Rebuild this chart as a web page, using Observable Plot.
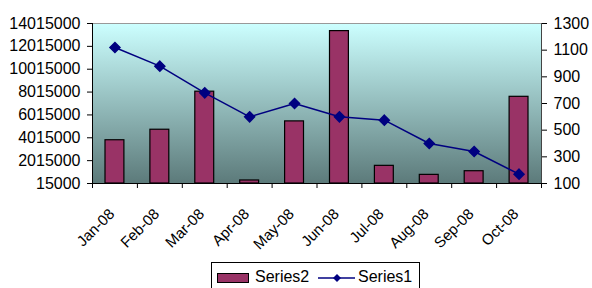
<!DOCTYPE html>
<html>
<head>
<meta charset="utf-8">
<script src="https://cdn.jsdelivr.net/npm/d3@7"></script>
<script src="https://cdn.jsdelivr.net/npm/@observablehq/plot@0.6"></script>
<style>
  html, body { margin: 0; padding: 0; background: #fff; }
  #wrap { position: relative; width: 592px; height: 288px; overflow: hidden; font-family: Arial, "Liberation Sans", sans-serif; }
  #wrap svg text { font-family: Arial, "Liberation Sans", sans-serif; }
  #legend { position: absolute; left: 211px; top: 262px; width: 209px; height: 34px; border: 1px solid #000; background: #fff; box-sizing: border-box; }
  #legend span { position: absolute; font-size: 16px; line-height: 16px; color: #000; white-space: nowrap; }
</style>
</head>
<body>
<div id="wrap"></div>
<script>
const months = ["Jan-08","Feb-08","Mar-08","Apr-08","May-08","Jun-08","Jul-08","Aug-08","Sep-08","Oct-08"];
const series2 = [3800000, 4720000, 8050000, 280000, 5450000, 13350000, 1560000, 770000, 1090000, 7600000];
const series1 = [1120, 980, 780, 600, 700, 600, 575, 400, 340, 170];
const leftTicks = [15000, 2015000, 4015000, 6015000, 8015000, 10015000, 12015000, 14015000];
const rightTicks = [100, 300, 500, 700, 900, 1100, 1300];

const L0 = leftTicks[0], L1 = leftTicks[leftTicks.length - 1];
const R0 = rightTicks[0], R1 = rightTicks[rightTicks.length - 1];
const toLeft = v => L0 + (v - R0) / (R1 - R0) * (L1 - L0);
const fromLeft = v => R0 + (v - L0) / (L1 - L0) * (R1 - R0);

const data = months.map((m, i) => ({m, i, s2: series2[i], s1: toLeft(series1[i])}));
const n = months.length;

const gradientDefs = () => {
  const defs = d3.create("svg:defs");
  const g = defs.append("linearGradient").attr("id", "bgGrad")
    .attr("x1", 0).attr("y1", 0).attr("x2", 0).attr("y2", 1);
  g.append("stop").attr("offset", "0%").attr("stop-color", "#ccffff");
  g.append("stop").attr("offset", "100%").attr("stop-color", "#5c7a7a");
  return defs.node();
};

const chart = Plot.plot({
  width: 592,
  height: 258,
  marginLeft: 92,
  marginRight: 51,
  marginTop: 23,
  marginBottom: 75,
  style: "font-family: Arial, 'Liberation Sans', sans-serif; font-size: 16px; background: transparent; color: #000;",
  x: {domain: [0, n]},
  y: {domain: [L0, L1]},
  marks: [
    gradientDefs,
    Plot.frame({fill: "url(#bgGrad)", stroke: null}),
    Plot.ruleY([L1], {stroke: "#999", strokeWidth: 1}),
    Plot.rectY(data, {x1: d => d.i, x2: d => d.i + 1, y1: L0, y2: "s2", insetLeft: 13, insetRight: 13, fill: "#993366", stroke: "#000", strokeWidth: 1.2}),
    Plot.line(data, {x: d => d.i + 0.5, y: "s1", stroke: "#000080", strokeWidth: 1.5}),
    Plot.dot(data, {x: d => d.i + 0.5, y: "s1", symbol: "diamond2", r: 4.5, fill: "#000080", stroke: "#000080"}),
    Plot.ruleX([0], {stroke: "#000", strokeWidth: 1}),
    Plot.ruleX([n], {stroke: "#444", strokeWidth: 1}),
    Plot.ruleY([L0], {stroke: "#000", strokeWidth: 1}),
    Plot.axisY({anchor: "left", ticks: leftTicks, tickFormat: d3.format("d"), tickSize: 5, tickPadding: 7, label: null, fontSize: 16}),
    Plot.axisY({anchor: "right", ticks: rightTicks.map(toLeft), tickFormat: d => String(Math.round(fromLeft(d))), tickSize: 5, tickPadding: 7, label: null, fontSize: 16}),
    Plot.axisX({ticks: d3.range(0, n + 1), tickFormat: () => "", tickSize: 5, label: null}),
    Plot.text(data, {x: d => d.i + 0.5, y: L0, text: "m", rotate: -45, textAnchor: "end", dx: -3, dy: 28, fontSize: 15})
  ]
});

const wrap = document.getElementById("wrap");
wrap.appendChild(chart);

const legend = document.createElement("div");
legend.id = "legend";
legend.innerHTML = `
  <div style="position:absolute;left:5px;top:10px;width:30px;height:8px;background:#993366;border:1px solid #000;"></div>
  <span style="left:43px;top:6px;">Series2</span>
  <svg style="position:absolute;left:106px;top:8px;" width="38" height="14">
    <line x1="0" y1="7" x2="37" y2="7" stroke="#000080" stroke-width="1.5"></line>
    <path d="M19,3 L23,7 L19,11 L15,7 Z" fill="#000080"></path>
  </svg>
  <span style="left:146px;top:6px;">Series1</span>
`;
wrap.appendChild(legend);
</script>
</body>
</html>
